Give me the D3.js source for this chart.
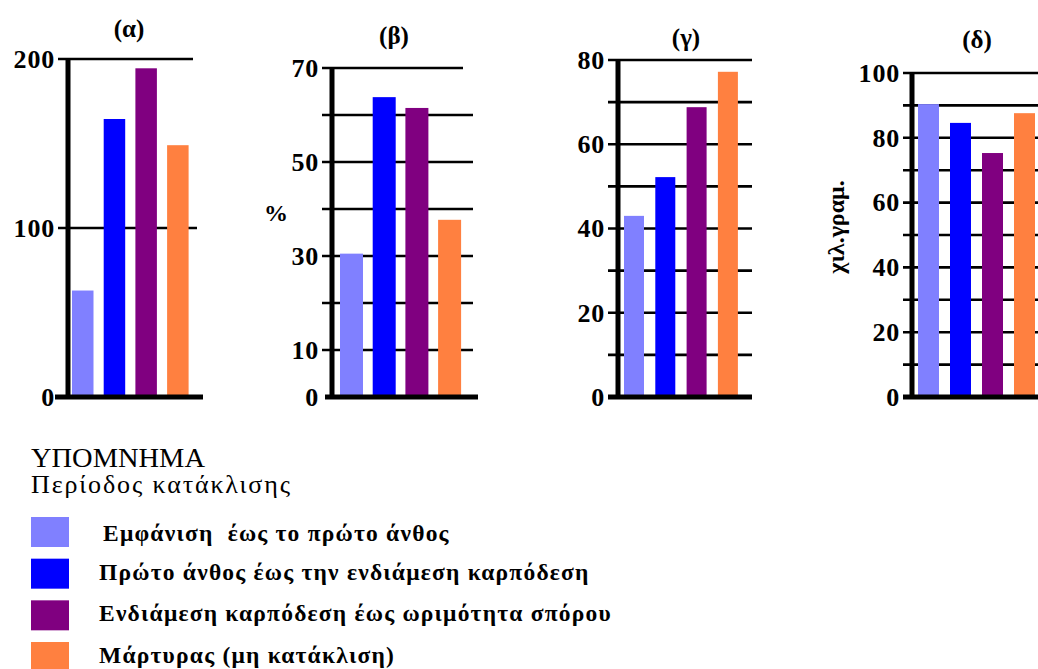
<!DOCTYPE html>
<html><head><meta charset="utf-8">
<script src="https://cdn.jsdelivr.net/npm/d3@7"></script>
<style>
html,body{margin:0;padding:0;background:#fff;overflow:hidden;}
svg{display:block;}
text{font-family:"Liberation Serif","Times New Roman","DejaVu Serif",serif;}
</style></head>
<body>
<svg id="chart" width="1038" height="669"></svg>
<script>
// ---- data ----
const categories = ["Εμφάνιση  έως το πρώτο άνθος", "Πρώτο άνθος έως την ενδιάμεση καρπόδεση", "Ενδιάμεση καρπόδεση έως ωριμότητα σπόρου", "Μάρτυρας (μη κατάκλιση)"];
const colors = ["#8080ff", "#0000ff", "#800080", "#ff8040"];
const panelTitles = ["(α)", "(β)", "(γ)", "(δ)"];
const valuesA = [63, 164.5, 194.5, 149];
const valuesB = [30.5, 63.8, 61.5, 37.7];
const valuesC = [43, 52.2, 68.8, 77.2];
const valuesD = [90.4, 84.6, 75.3, 87.6];
const gridA = [100, 200];
const labelsA = [0, 100, 200];
const gridB = [10, 20, 30, 40, 50, 60, 70];
const labelsB = [0, 10, 30, 50, 70];
const gridC = [10, 20, 30, 40, 50, 60, 70, 80];
const labelsC = [0, 20, 40, 60, 80];
const gridD = [10, 20, 30, 40, 50, 60, 70, 80, 90, 100];
const labelsD = [0, 20, 40, 60, 80, 100];
const yLabels = ["", "%", "", "χιλ.γραμ."];
const legendTitle = "ΥΠΟΜΝΗΜΑ";
const legendSubtitle = "Περίοδος κατάκλισης";

// ---- layout ----
const panels = [
  {values: valuesA, grid: gridA, labels: labelsA, max: 200, axisX: 68, yTop: 59, gx0: 58, gx1: 197, topEnd: 193, bx0: 55, bx1: 203, bar0: 72, step: 31.7, bw: 21.5, tx: 129, ty: 37},
  {values: valuesB, grid: gridB, labels: labelsB, max: 70, axisX: 332, yTop: 68, gx0: 322, gx1: 473, topEnd: 463, bx0: 325, bx1: 478, bar0: 340, step: 32.7, bw: 23, tx: 394, ty: 44, lx: 276, ly: 213},
  {values: valuesC, grid: gridC, labels: labelsC, max: 80, axisX: 618, yTop: 60, gx0: 608, gx1: 752, topEnd: 752, bx0: 608, bx1: 752, bar0: 624, step: 31.3, bw: 20, tx: 686, ty: 46},
  {values: valuesD, grid: gridD, labels: labelsD, max: 100, axisX: 912, yTop: 73, gx0: 903, gx1: 1045, topEnd: 1045, bx0: 903, bx1: 1045, bar0: 918, step: 32, bw: 21, tx: 977, ty: 48, lx: 836, ly: 227}
];
const y0 = 397;
const svg = d3.select("#chart");

panels.forEach((p, i) => {
  const g = svg.append("g");
  const y = d3.scaleLinear().domain([0, p.max]).range([y0, p.yTop]);
  const x = d3.scaleBand().domain(categories)
    .range([p.bar0, p.bar0 + 3 * p.step + p.bw])
    .paddingInner(1 - p.bw / p.step).paddingOuter(0);

  // gridlines (behind bars)
  g.selectAll("line.grid").data(p.grid).join("line")
    .attr("x1", p.gx0).attr("x2", d => d === p.max ? p.topEnd : p.gx1)
    .attr("y1", d => y(d)).attr("y2", d => y(d))
    .attr("stroke", "#000").attr("stroke-width", 2.6);

  // bars
  g.selectAll("rect.bar").data(p.values).join("rect")
    .attr("x", (d, j) => x(categories[j]))
    .attr("width", x.bandwidth())
    .attr("y", d => y(d))
    .attr("height", d => y0 - y(d))
    .attr("fill", (d, j) => colors[j]);

  // y axis line
  g.append("line").attr("x1", p.axisX).attr("x2", p.axisX)
    .attr("y1", y(p.max) - 1).attr("y2", y0)
    .attr("stroke", "#000").attr("stroke-width", 5);
  // baseline
  g.append("line").attr("x1", p.bx0).attr("x2", p.bx1)
    .attr("y1", y(0)).attr("y2", y(0))
    .attr("stroke", "#000").attr("stroke-width", 5);

  // tick labels
  g.selectAll("text.tick").data(p.labels).join("text")
    .attr("x", p.gx0 - 3).attr("y", d => y(d)).attr("dy", "0.34em")
    .attr("text-anchor", "end").attr("font-weight", "bold")
    .attr("font-size", 26).attr("letter-spacing", 0.8).text(d => d);

  // title
  g.append("text").attr("x", p.tx).attr("y", p.ty)
    .attr("text-anchor", "middle").attr("font-weight", "bold")
    .attr("font-size", 25).text(panelTitles[i]);

  // y label
  if (yLabels[i]) {
    g.append("text").attr("transform", `translate(${p.lx},${p.ly}) rotate(${i === 3 ? -90 : 0})`)
      .attr("text-anchor", "middle").attr("dy", "0.35em")
      .attr("font-weight", "bold").attr("font-size", 24).text(yLabels[i]);
  }
});

// ---- legend ----
const leg = svg.append("g");
leg.append("text").attr("x", 31).attr("y", 467).attr("font-size", 28)
  .attr("textLength", 174).attr("lengthAdjust", "spacingAndGlyphs").text(legendTitle);
leg.append("text").attr("x", 31).attr("y", 493).attr("font-size", 26)
  .attr("textLength", 259).attr("lengthAdjust", "spacing").text(legendSubtitle);
const rowY = d3.scalePoint().domain(categories).range([517, 642]);
leg.selectAll("rect.sw").data(categories).join("rect")
  .attr("x", 31).attr("y", d => rowY(d)).attr("width", 38).attr("height", 30)
  .attr("fill", (d, j) => colors[j]);
const items = leg.selectAll("text.item").data(categories).join("text")
  .attr("x", (d, j) => j === 0 ? 103 : 99).attr("y", (d, j) => rowY(d) + (j === 0 ? 24 : 21))
  .attr("font-weight", "bold").attr("font-size", 23.5)
  .style("white-space", "pre").text(d => d);
// letter spacing so that the longest entry spans like the reference
const n3 = items.nodes()[2];
const natural = n3.getComputedTextLength();
const ls = (513 - natural) / categories[2].length;
items.attr("letter-spacing", ls);
</script>
</body></html>
